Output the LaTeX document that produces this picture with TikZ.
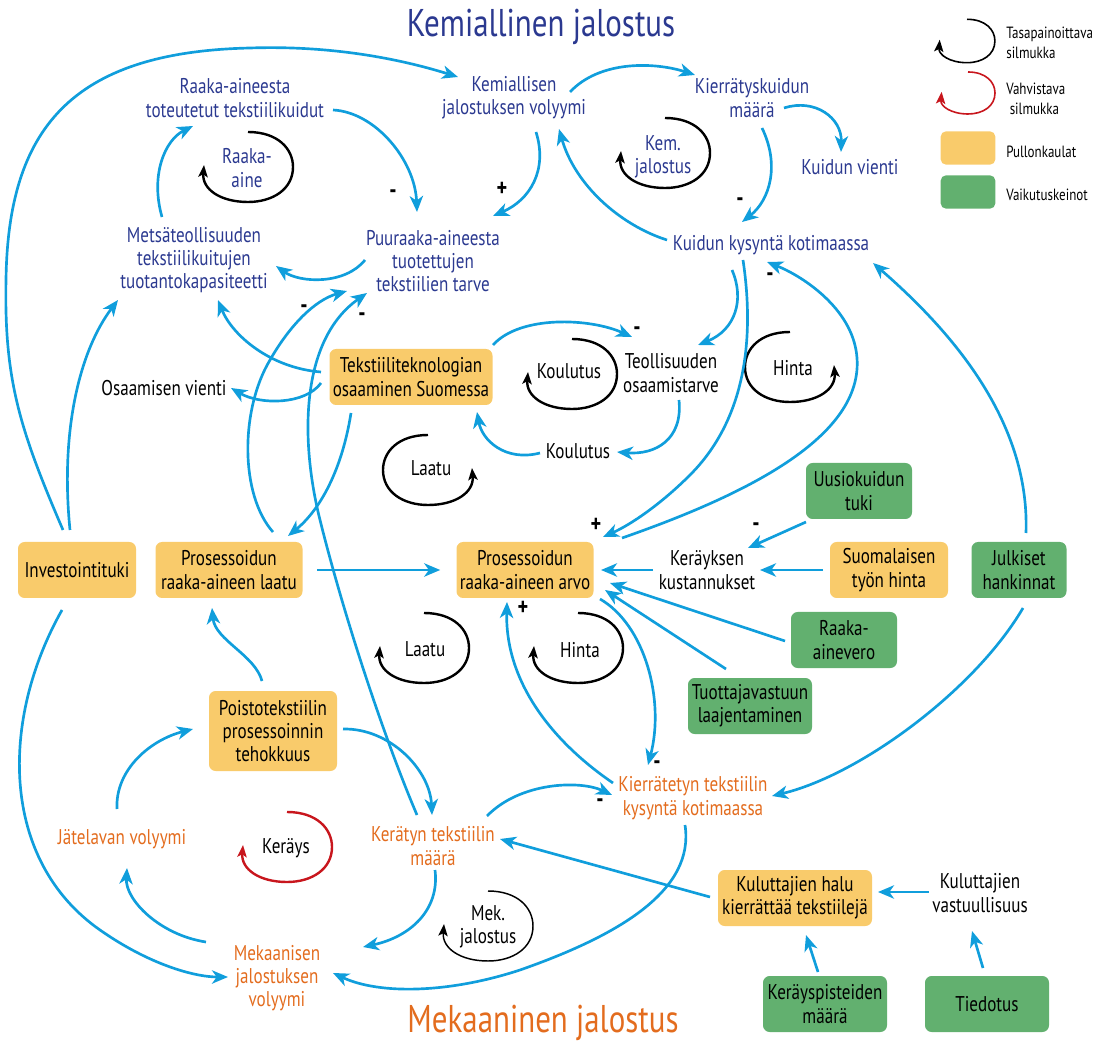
\documentclass[tikz,border=0pt]{standalone}
\usepackage{fontspec}
\setmainfont{PT Sans}[FakeStretch=0.8]
\usetikzlibrary{arrows.meta}
\definecolor{navy}{RGB}{43,57,144}
\definecolor{orng}{RGB}{227,108,30}
\definecolor{lblue}{RGB}{16,158,220}
\definecolor{yel}{RGB}{249,203,107}
\definecolor{grn}{RGB}{98,176,111}
\definecolor{loopred}{RGB}{200,22,29}
\tikzset{
  arr/.style={draw=lblue, line width=2pt, -{Stealth[length=12pt,width=10pt,inset=3.5pt]}},
  txt/.style={font=\fontsize{16}{17.5}\selectfont, align=center, inner sep=1pt},
  bluetxt/.style={txt, text=navy},
  orangetxt/.style={txt, text=orng},
  box/.style={txt, rounded corners=5pt, inner sep=0pt, minimum height=42pt},
  ybox/.style={box, fill=yel},
  gbox/.style={box, fill=grn},
  sign/.style={font=\fontsize{19}{19}\selectfont\bfseries, inner sep=0pt, text height=0.5em, text depth=0pt},
  title/.style={font=\fontsize{29}{32}\selectfont, inner sep=0pt},
  legtxt/.style={font=\fontsize{12.2}{14.5}\selectfont, align=left, anchor=west, inner sep=0pt},
  loopline/.style={line width=1.8pt, -{Stealth[length=9pt,width=7pt,inset=2pt]}},
  pics/cwloop/.style={code={\draw[loopline,draw=#1] (0,-35) .. controls (30,-35) and (45,-18) .. (45,0) .. controls (45,22) and (25,35) .. (0,35) .. controls (-28,35) and (-46,22) .. (-44,-2);}},
  pics/ccwloop/.style={code={\draw[loopline,draw=#1] (0,-35) .. controls (-30,-35) and (-45,-18) .. (-45,0) .. controls (-45,22) and (-25,35) .. (0,35) .. controls (28,35) and (46,22) .. (44,-2);}},
}
\begin{document}
\begin{tikzpicture}[x=0.75pt,y=-0.75pt]
\useasboundingbox (0,0) rectangle (1107,1044);

% titles
\node[title,text=navy] (T1) at (541,27) {Kemiallinen jalostus};
\node[title,text=orng] (T2) at (543,1023) {Mekaaninen jalostus};

% blue text nodes
\node[bluetxt] (RAT) at (235,98) {Raaka-aineesta\\toteutetut tekstiilikuidut};
\node[bluetxt] (KJV) at (514,98) {Kemiallisen\\jalostuksen volyymi};
\node[bluetxt] (KKM) at (752,98) {Kierrätyskuidun\\määrä};
\node[bluetxt] (KV) at (850,167) {Kuidun vienti};
\node[bluetxt] (MTT) at (194,260) {Metsäteollisuuden\\tekstiilikuitujen\\tuotantokapasiteetti};
\node[bluetxt] (PTT) at (433,261) {Puuraaka-aineesta\\tuotettujen\\tekstiilien tarve};
\node[bluetxt] (KKK) at (771,245) {Kuidun kysyntä kotimaassa};

% black text nodes
\node[txt] (OV) at (164,388) {Osaamisen vienti};
\node[txt] (TO) at (671,373) {Teollisuuden\\osaamistarve};
\node[txt] (KOU) at (578,451) {Koulutus};
\node[txt] (KK) at (707,570) {Keräyksen\\kustannukset};
\node[txt] (KV2) at (980,893) {Kuluttajien\\vastuullisuus};

% orange text nodes
\node[orangetxt] (KTK) at (693,798) {Kierrätetyn tekstiilin\\kysyntä kotimaassa};
\node[orangetxt] (KTM) at (433,846) {Kerätyn tekstiilin\\määrä};
\node[orangetxt] (MJV) at (277,978) {Mekaanisen\\jalostuksen\\volyymi};
\node[orangetxt] (JV) at (122,839) {Jätelavan volyymi};

% yellow boxes
\node[ybox,minimum width=122.25pt] (TOS) at (411,377) {Tekstiiliteknologian\\osaaminen Suomessa};
\node[ybox,minimum width=88.5pt] (INV) at (77,570) {Investointituki};
\node[ybox,minimum width=110.25pt] (PRL) at (229,570) {Prosessoidun\\raaka-aineen laatu};
\node[ybox,minimum width=102.75pt] (PRA) at (525,570) {Prosessoidun\\raaka-aineen arvo};
\node[ybox,minimum width=88.5pt] (SUO) at (889,570) {Suomalaisen\\työn hinta};
\node[ybox,minimum width=96pt,minimum height=60pt] (PTE) at (273,731) {Poistotekstiilin\\prosessoinnin\\tehokkuus};
\node[ybox,minimum width=115.5pt] (KHK) at (795,898) {Kuluttajien halu\\kierrättää tekstiilejä};

% green boxes
\node[gbox,minimum width=79.5pt] (UUS) at (859,491) {Uusiokuidun\\tuki};
\node[gbox,minimum width=71.25pt] (JUL) at (1019,570) {Julkiset\\hankinnat};
\node[gbox,minimum width=79.5pt] (RAV) at (844,640) {Raaka-\\ainevero};
\node[gbox,minimum width=93pt] (TUO) at (750,706) {Tuottajavastuun\\laajentaminen};
\node[gbox,minimum width=93pt] (KPM) at (825,1004) {Keräyspisteiden\\määrä};
\node[gbox,minimum width=93pt] (TIE) at (987,1004) {Tiedotus};

% loops
\pic at (248,167) {cwloop=black};
\node[bluetxt] (L1) at (247,168) {Raaka-\\aine};
\pic at (665,153) {cwloop=black};
\node[bluetxt] (L2) at (663,157) {Kem.\\jalostus};
\pic at (572,374) {cwloop=black};
\node[txt] (L3) at (569,371) {Koulutus};
\pic at (790,367) {ccwloop=black};
\node[txt] (L4) at (793,368) {Hinta};
\pic at (428,470) {ccwloop=black};
\node[txt] (L5) at (431,468) {Laatu};
\pic at (424,648) {cwloop=black};
\node[txt] (L6) at (425,649) {Laatu};
\pic at (578,648) {cwloop=black};
\node[txt] (L7) at (580,650) {Hinta};
\pic at (287,847) {cwloop=loopred};
\node[txt] (L8) at (286,848) {Keräys};
\pic[loopline/.append style={line width=1.1pt}] at (488,926) {cwloop=black};
\node[txt] (L9) at (488,927) {Mek.\\jalostus};

% legend
\pic[scale=0.62,loopline/.append style={line width=1.2pt}] at (967,41) {cwloop=black};
\node[legtxt] (LG1) at (1006,43) {Tasapainoittava\\silmukka};
\pic[scale=0.6,loopline/.append style={line width=1.2pt}] at (968,93) {cwloop=loopred};
\node[legtxt] (LG2) at (1006,99) {Vahvistava\\\ silmukka};
\node[fill=yel,rounded corners=4pt,minimum width=41pt,minimum height=25pt,inner sep=0pt] (LB1) at (968,148) {};
\node[legtxt] (LG3) at (1006,152) {Pullonkaulat};
\node[fill=grn,rounded corners=4pt,minimum width=41pt,minimum height=25pt,inner sep=0pt] (LB2) at (968,192) {};
\node[legtxt] (LG4) at (1006,195) {Vaikutuskeinot};

% signs
\node[sign] (s1) at (393,195) {-};
\node[sign] (s2) at (502,193) {+};
\node[sign] (s3) at (740,203) {-};
\node[sign] (s4) at (770,278) {-};
\node[sign] (s5) at (637,332) {-};
\node[sign] (s6) at (304,310) {-};
\node[sign] (s7) at (362,318) {-};
\node[sign] (s8) at (596,529) {+};
\node[sign] (s9) at (756,528) {-};
\node[sign] (s10) at (523,612) {+};
\node[sign] (s11) at (657,766) {-};
\node[sign] (s12) at (600,804) {-};

% connectors
\draw[arr] ([shift={(-14,-40)}]INV.center) .. controls (20,430) and (4,380) .. (6,280) .. controls (8,130) and (70,52) .. (250,48) .. controls (340,45) and (410,62) .. ([shift={(-56,-21)}]KJV.center);
\draw[arr] ([shift={(-7,-40)}]INV.center) .. controls (60,430) and (80,350) .. ([shift={(-76,40)}]MTT.center);
\draw[arr] ([shift={(-15,40)}]INV.center) .. controls (0,720) and (0,860) .. (100,930) .. controls (150,965) and (195,977) .. ([shift={(-49,-1)}]MJV.center);
\draw[arr] ([shift={(98,12)}]RAT.center) .. controls (375,112) and (415,160) .. ([shift={(-16,-49)}]PTT.center);
\draw[arr] ([shift={(22,34)}]KJV.center) .. controls (548,170) and (530,200) .. ([shift={(60,-45)}]PTT.center);
\draw[arr] ([shift={(-104,-5)}]KKK.center) .. controls (620,225) and (575,185) .. ([shift={(45,31)}]KJV.center);
\draw[arr] ([shift={(56,-6)}]KJV.center) .. controls (600,60) and (655,62) .. ([shift={(-57,-23)}]KKM.center);
\draw[arr] ([shift={(32,10)}]KKM.center) .. controls (815,98) and (842,118) .. ([shift={(-9,-15)}]KV.center);
\draw[arr] ([shift={(10,30)}]KKM.center) .. controls (780,165) and (770,200) .. ([shift={(-29,-23)}]KKK.center);
\draw[arr] ([shift={(-68,-1)}]PTT.center) .. controls (345,285) and (300,283) .. ([shift={(82,6)}]MTT.center);
\draw[arr] ([shift={(-32,-43)}]MTT.center) .. controls (150,175) and (165,140) .. ([shift={(-42,28)}]RAT.center);
\draw[arr] ([shift={(-90,-5)}]TOS.center) .. controls (270,368) and (232,335) .. ([shift={(24,40)}]MTT.center);
\draw[arr] ([shift={(-90,6)}]TOS.center) .. controls (305,405) and (260,405) .. ([shift={(67,0)}]OV.center);
\draw[arr] ([shift={(-60,36)}]TOS.center) .. controls (342,470) and (320,510) .. ([shift={(59,-34)}]PRL.center);
\draw[arr] ([shift={(82,-32)}]TOS.center) .. controls (520,315) and (590,318) .. ([shift={(-39,-36)}]TO.center);
\draw[arr] ([shift={(8,27)}]TO.center) .. controls (683,440) and (655,455) .. ([shift={(39,1)}]KOU.center);
\draw[arr] ([shift={(-38,2)}]KOU.center) .. controls (505,462) and (482,440) .. ([shift={(66,35)}]TOS.center);
\draw[arr] ([shift={(-39,25)}]KKK.center) .. controls (745,300) and (735,330) .. ([shift={(27,-28)}]TO.center);
\draw[arr] ([shift={(-28,15)}]KKK.center) .. controls (755,340) and (745,420) .. (690,475) .. controls (660,505) and (630,525) .. ([shift={(78,-33)}]PRA.center);
\draw[arr] ([shift={(97,-32)}]PRA.center) .. controls (760,490) and (870,430) .. (856,350) .. controls (848,305) and (800,275) .. ([shift={(-4,17)}]KKK.center);
\draw[arr] ([shift={(7,-37)}]JUL.center) .. controls (1030,420) and (950,330) .. ([shift={(102,18)}]KKK.center);
\draw[arr] ([shift={(4,38)}]JUL.center) .. controls (975,690) and (860,775) .. ([shift={(79,-2)}]KTK.center);
\draw[arr] ([shift={(44,-38)}]PRL.center) .. controls (240,495) and (240,410) .. (270,360) .. controls (290,325) and (315,300) .. ([shift={(-86,30)}]PTT.center);
\draw[arr] ([shift={(-16,-31)}]KTM.center) .. controls (385,740) and (345,620) .. (320,520) .. controls (300,440) and (300,340) .. ([shift={(-66,32)}]PTT.center);
\draw[arr,shorten <=11pt,shorten >=12pt] (PRL.east) -- (PRA.west);
\draw[arr] ([shift={(-54,0)}]KK.center) -- ([shift={(76,0)}]PRA.center);
\draw[arr] ([shift={(-53,31)}]UUS.center) -- ([shift={(41,-22)}]KK.center);
\draw[arr] ([shift={(-66,0)}]SUO.center) -- ([shift={(53,0)}]KK.center);
\draw[arr] ([shift={(-59,1)}]RAV.center) -- ([shift={(85,13)}]PRA.center);
\draw[arr] ([shift={(-24,-37)}]TUO.center) -- ([shift={(80,20)}]PRA.center);
\draw[arr] ([shift={(75,29)}]PRA.center) .. controls (645,625) and (665,700) .. ([shift={(-45,-33)}]KTK.center);
\draw[arr] ([shift={(-80,-15)}]KTK.center) .. controls (550,740) and (505,680) .. ([shift={(-18,32)}]PRA.center);
\draw[arr] ([shift={(54,-30)}]KTM.center) .. controls (520,782) and (580,780) .. ([shift={(-81,-3)}]KTK.center);
\draw[arr] ([shift={(-85,-1)}]KHK.center) -- ([shift={(67,-7)}]KTM.center);
\draw[arr] ([shift={(-8,27)}]KTK.center) .. controls (695,890) and (620,935) .. (520,970) .. controls (450,993) and (380,995) .. ([shift={(56,-5)}]MJV.center);
\draw[arr] ([shift={(2,24)}]KTM.center) .. controls (440,910) and (410,937) .. ([shift={(86,-31)}]MJV.center);
\draw[arr] ([shift={(-71,-36)}]MJV.center) .. controls (160,935) and (125,900) .. ([shift={(5,29)}]JV.center);
\draw[arr] ([shift={(-5,-30)}]JV.center) .. controls (115,770) and (150,740) .. ([shift={(-80,-2)}]PTE.center);
\draw[arr] ([shift={(-11,-50)}]PTE.center) .. controls (255,655) and (215,640) .. ([shift={(-17,38)}]PRL.center);
\draw[arr] ([shift={(70,-2)}]PTE.center) .. controls (390,728) and (430,770) .. ([shift={(-1,-31)}]KTM.center);
\draw[arr] ([shift={(-7,-32)}]KPM.center) -- ([shift={(11,37)}]KHK.center);
\draw[arr] ([shift={(-4,-36)}]TIE.center) -- ([shift={(-8,38)}]KV2.center);
\draw[arr] ([shift={(-51,-1)}]KV2.center) -- ([shift={(83,-6)}]KHK.center);
\end{tikzpicture}
\end{document}
